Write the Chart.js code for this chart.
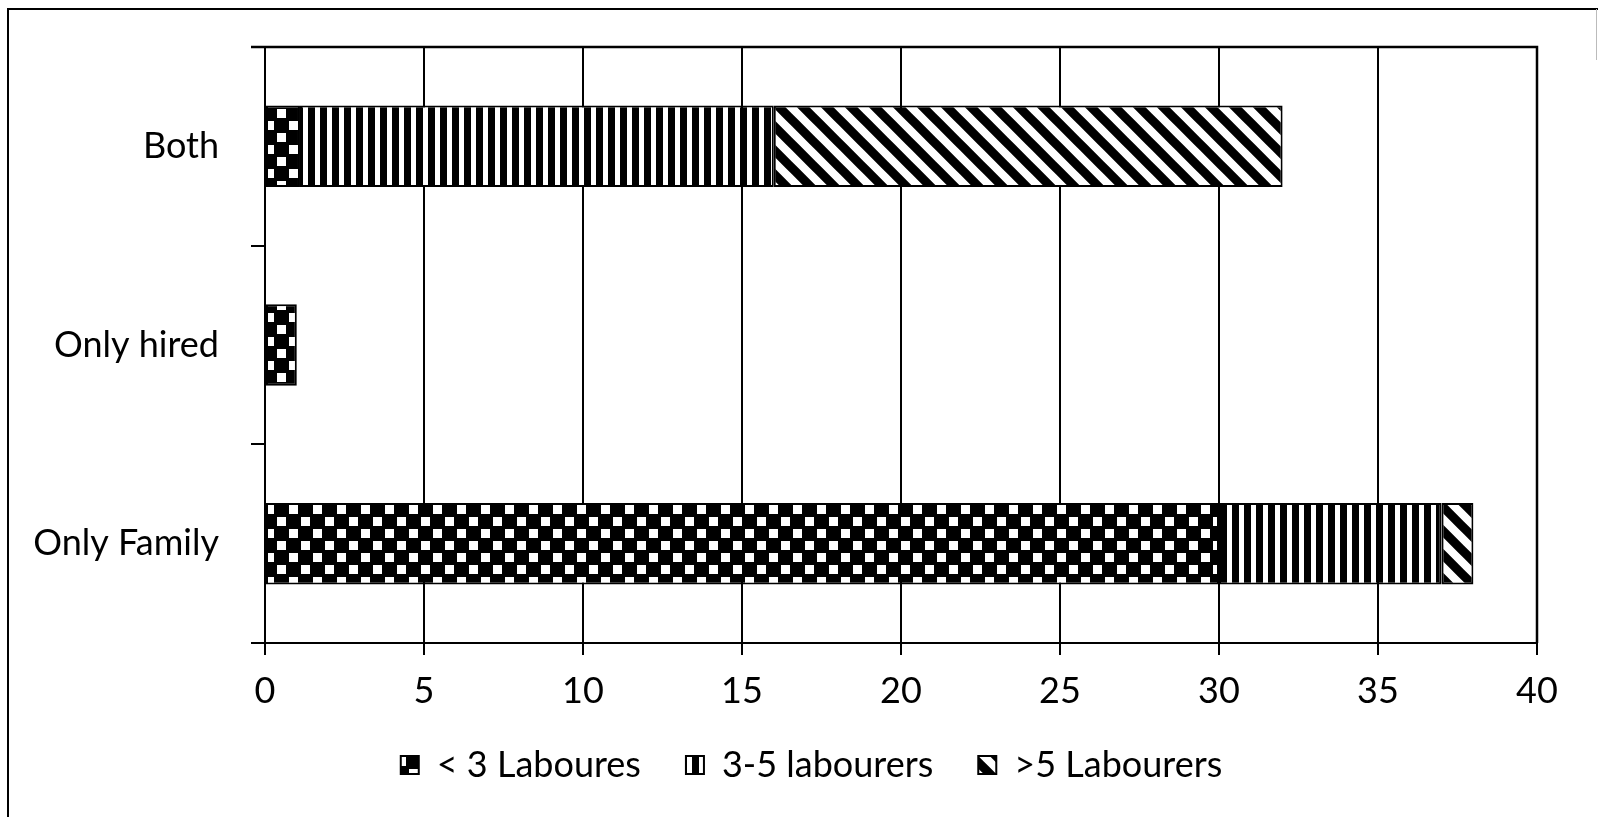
<!DOCTYPE html>
<html>
<head>
<meta charset="utf-8">
<script src="https://cdn.jsdelivr.net/npm/chart.js@4/dist/chart.umd.min.js"></script>
<style>
  html, body { margin: 0; padding: 0; background: #fff; }
  #wrap { width: 1598px; height: 817px; }
</style>
</head>
<body>
<div id="wrap"><canvas id="chart" width="1598" height="817"></canvas></div>
<script>
const categories = ["Both", "Only hired", "Only Family"];
const lessThan3 = [1.1, 1, 30];
const from3to5 = [14.9, 0, 7];
const moreThan5 = [16, 0, 1];
const xTicks = [0, 5, 10, 15, 20, 25, 30, 35, 40];

// hatch fills like the old excel print
function makePattern(kind) {
    const c = document.createElement("canvas");
    const g = c.getContext("2d");
    if (kind === "checker") {
        c.width = 24; c.height = 24;
        g.fillStyle = "#000"; g.fillRect(0, 0, 24, 24);
        g.fillStyle = "#fff";
        g.fillRect(1, 1, 9, 9);
        g.fillRect(13, 13, 9, 9);
    } else if (kind === "vertical") {
        c.width = 12; c.height = 12;
        g.fillStyle = "#000"; g.fillRect(0, 0, 12, 12);
        g.fillStyle = "#fff"; g.fillRect(3, 0, 5, 12);
    } else {
        c.width = 24; c.height = 24;
        g.fillStyle = "#fff"; g.fillRect(0, 0, 24, 24);
        g.strokeStyle = "#000"; g.lineWidth = 9;
        g.beginPath();
        g.moveTo(-12, -12); g.lineTo(36, 36);
        g.moveTo(-12, 12); g.lineTo(12, 36);
        g.moveTo(12, -12); g.lineTo(36, 12);
        g.stroke();
    }
    return g.createPattern(c, "repeat");
}

const frame = {
    id: "frame",
    afterLayout(chart) {
        // legend sits a bit right of centre and higher in the original
        const lg = chart.legend;
        lg.left += 86;
        lg.top = 702;
        lg.height = 110;
        lg.bottom = lg.top + lg.height;
    },
    beforeDraw(chart) {
        const ctx = chart.ctx;
        ctx.save();
        ctx.fillStyle = "#fff";
        ctx.fillRect(0, 0, chart.width, chart.height);
        ctx.strokeStyle = "#000";
        ctx.lineWidth = 2;
        ctx.beginPath();
        ctx.moveTo(8, 817); ctx.lineTo(8, 9); ctx.lineTo(1598, 9);
        ctx.stroke();
        ctx.strokeStyle = "#bbb";
        ctx.lineWidth = 1;
        ctx.beginPath();
        ctx.moveTo(1596.5, 9); ctx.lineTo(1596.5, 60);
        ctx.stroke();
        ctx.restore();
    },
    afterDatasetsDraw(chart) {
        const a = chart.chartArea, ctx = chart.ctx;
        ctx.save();
        ctx.strokeStyle = "#000";
        ctx.lineWidth = 2.5;
        ctx.beginPath();
        ctx.moveTo(a.left - 14, a.top); ctx.lineTo(a.right, a.top); ctx.lineTo(a.right, a.bottom);
        ctx.stroke();
        ctx.restore();
    }
};

const font = { family: "Lato, 'Open Sans', sans-serif", size: 36 };
Chart.defaults.color = "#000";

new Chart(document.getElementById("chart"), {
    type: "bar",
    data: {
        labels: categories,
        datasets: [
            { label: "< 3 Laboures", data: lessThan3, backgroundColor: makePattern("checker") },
            { label: "3-5 labourers", data: from3to5, backgroundColor: makePattern("vertical") },
            { label: ">5 Labourers", data: moreThan5, backgroundColor: makePattern("diagonal") }
        ].map(d => Object.assign(d, {
            borderColor: "#000", borderWidth: 2, borderSkipped: false,
            categoryPercentage: 1, barPercentage: 0.41
        }))
    },
    options: {
        indexAxis: "y",
        responsive: false,
        animation: false,
        layout: { padding: { left: 0, right: 61, top: 47, bottom: 24 } },
        plugins: {
            tooltip: { enabled: false },
            legend: {
                position: "bottom",
                maxHeight: 80,
                labels: { font: font, boxWidth: 18, boxHeight: 18, padding: 45 }
            }
        },
        scales: {
            x: {
                stacked: true, min: 0, max: 40,
                afterBuildTicks: s => { s.ticks = xTicks.map(v => ({ value: v })); },
                afterFit: s => { s.height = 70; },
                ticks: { font: font, padding: 15, maxRotation: 0 },
                grid: { color: "#000", lineWidth: 2, tickLength: 12 },
                border: { color: "#000", width: 2 }
            },
            y: {
                stacked: true,
                afterFit: s => { s.width = 265; s.paddingTop = 0; s.paddingBottom = 0; },
                ticks: { font: font, padding: 32 },
                grid: { offset: true, drawOnChartArea: false, color: "#000", lineWidth: 2, tickLength: 14 },
                border: { color: "#000", width: 2 }
            }
        }
    },
    plugins: [frame]
});
</script>
</body>
</html>
